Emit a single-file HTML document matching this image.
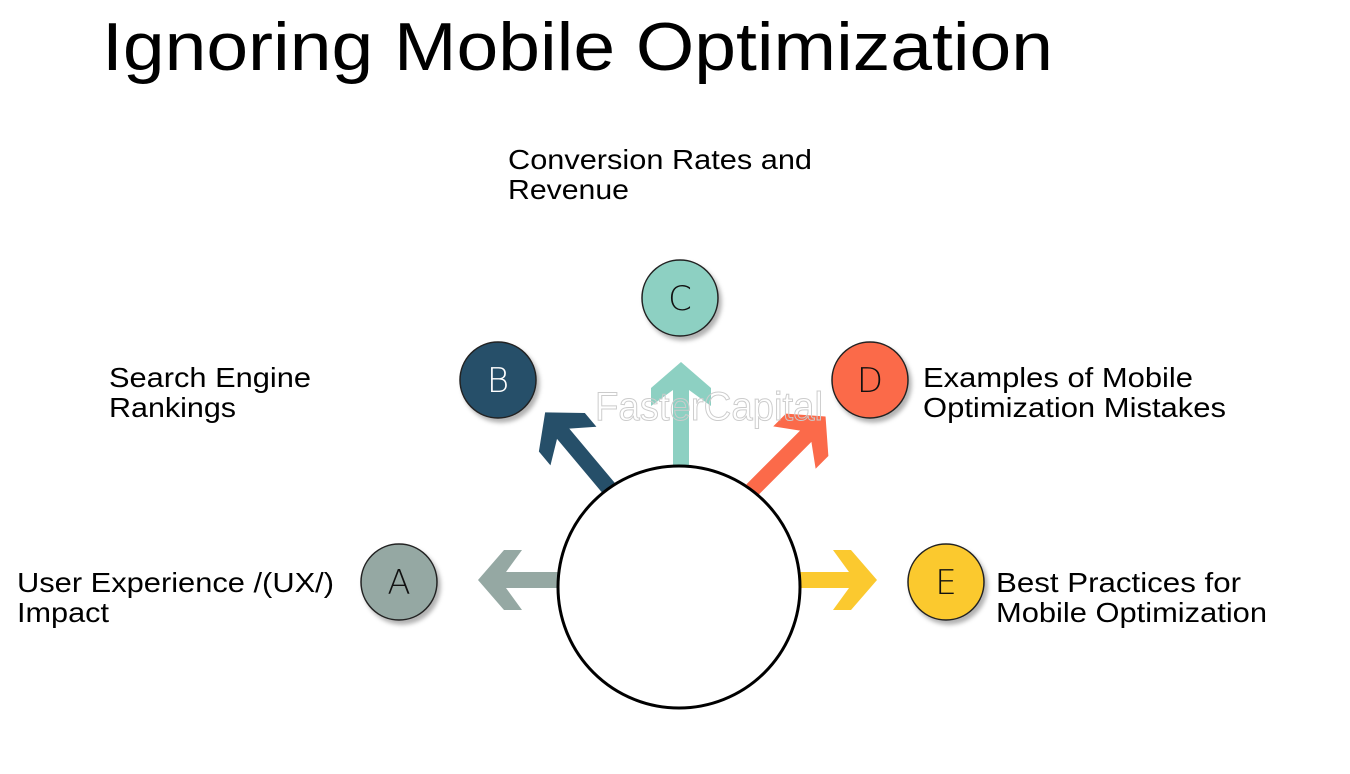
<!DOCTYPE html>
<html><head><meta charset="utf-8"><style>
body{margin:0;background:#fff;width:1350px;height:769px;overflow:hidden}
</style></head><body>
<svg width="1350" height="769" xmlns="http://www.w3.org/2000/svg" font-family="Liberation Sans, sans-serif">
<defs>
<filter id="sh" x="-30%" y="-30%" width="160%" height="160%"><feDropShadow dx="3" dy="4" stdDeviation="2" flood-color="#000" flood-opacity="0.3"/></filter>
</defs>
<text x="102" y="70" font-size="68" textLength="951" lengthAdjust="spacingAndGlyphs">Ignoring Mobile Optimization</text>
<g font-size="28" fill="#000" lengthAdjust="spacingAndGlyphs">
<text x="508" y="169" textLength="304" lengthAdjust="spacingAndGlyphs">Conversion Rates and</text><text x="508" y="199" textLength="121" lengthAdjust="spacingAndGlyphs">Revenue</text>
<text x="109" y="387" textLength="202" lengthAdjust="spacingAndGlyphs">Search Engine</text><text x="109" y="417" textLength="127" lengthAdjust="spacingAndGlyphs">Rankings</text>
<text x="923" y="387" textLength="270" lengthAdjust="spacingAndGlyphs">Examples of Mobile</text><text x="923" y="417" textLength="303" lengthAdjust="spacingAndGlyphs">Optimization Mistakes</text>
<text x="17" y="592" textLength="317" lengthAdjust="spacingAndGlyphs">User Experience /(UX/)</text><text x="17" y="622" textLength="92" lengthAdjust="spacingAndGlyphs">Impact</text>
<text x="996" y="592" textLength="245" lengthAdjust="spacingAndGlyphs">Best Practices for</text><text x="996" y="622" textLength="271" lengthAdjust="spacingAndGlyphs">Mobile Optimization</text>
</g>
<g transform="translate(558,580) rotate(180)"><polygon fill="#95a8a3" points="0,-8 52,-8 36,-30 54,-30 80,0 54,30 36,30 52,8 0,8"/></g>
<g transform="translate(800,580)"><polygon fill="#fbc92f" points="0,-8 49,-8 33,-30 51,-30 77,0 51,30 33,30 49,8 0,8"/></g>
<g transform="translate(681,466) rotate(-90)"><polygon fill="#8dd0c2" points="0,-8 76,-8 60,-30 78,-30 104,0 78,30 60,30 76,8 0,8"/></g>
<g transform="translate(612,492) rotate(-130)"><polygon fill="#264f69" points="0,-8 76,-8 60,-30 78,-30 104,0 78,30 60,30 76,8 0,8"/></g>
<g transform="translate(752,490) rotate(-45)"><polygon fill="#fb6a4a" points="0,-8 76,-8 60,-30 78,-30 104,0 78,30 60,30 76,8 0,8"/></g>
<text x="595" y="420" font-size="40" fill="none" stroke="#ccc" stroke-width="1" textLength="228" lengthAdjust="spacingAndGlyphs">FasterCapital</text>
<circle cx="679" cy="587" r="121" fill="#fff" stroke="#000" stroke-width="3"/>
<g stroke="#222" stroke-width="1.5" filter="url(#sh)">
<circle cx="399" cy="582" r="38" fill="#95a8a3"/>
<circle cx="498" cy="380" r="38" fill="#264f69"/>
<circle cx="680" cy="298" r="38" fill="#8dd0c2"/>
<circle cx="870" cy="380" r="38" fill="#fb6a4a"/>
<circle cx="946" cy="582" r="38" fill="#fbc92f"/>
</g>
<g font-size="34" text-anchor="middle" font-family="DejaVu Sans, sans-serif" font-weight="200">
<text x="399" y="594" fill="#111">A</text>
<text x="498" y="392" fill="#fff">B</text>
<text x="680" y="310" fill="#111">C</text>
<text x="870" y="392" fill="#111">D</text>
<text x="946" y="594" fill="#111">E</text>
</g>
</svg>
</body></html>
